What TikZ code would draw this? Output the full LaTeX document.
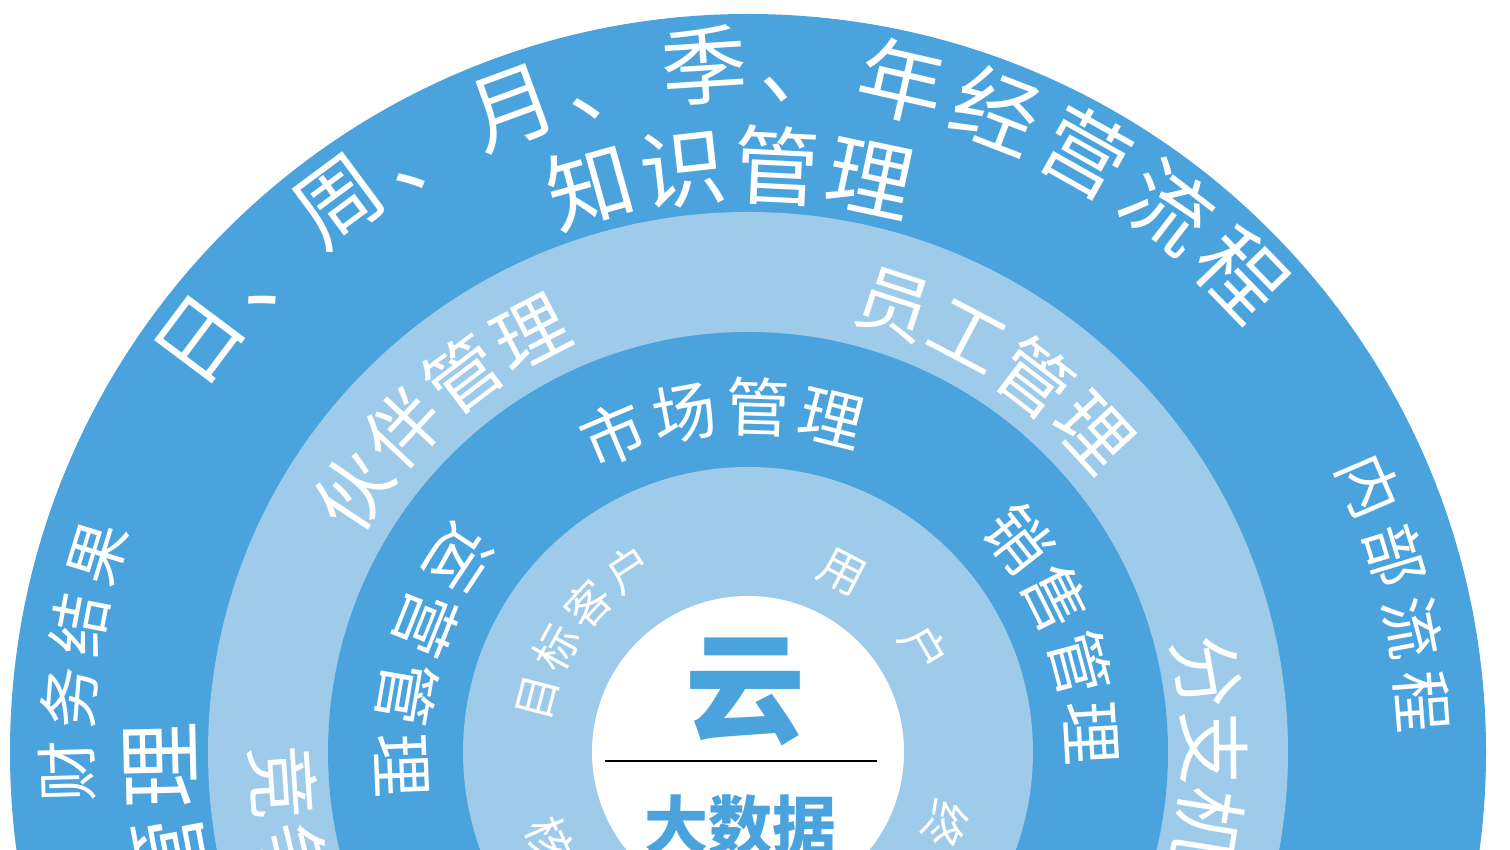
\documentclass[tikz,border=0pt]{standalone}
\usepackage{fontspec}
\newfontfamily\cjk{Noto Sans CJK SC}
\definecolor{midblue}{RGB}{74,163,221}
\definecolor{lightblue}{RGB}{158,203,234}
\newcommand\cbox[1]{\rule[-0.12em]{0pt}{1em}#1}
\tikzset{
  arcch/.style={inner sep=0pt, outer sep=0pt, text=white, font=\cjk\fontsize{#1pt}{#1pt}\selectfont},
  ring/.style={fill=#1, draw=none},
}
% outward-facing characters (tops away from centre)
\newcommand\arcout[6]{%
  \foreach \c [count=\i from 0] in {#6} {
    \pgfmathsetmacro\a{#2+#3*\i}
    \node[arcch=#5, rotate=\a-90] (#1-\i) at (\a:#4) {\cbox{\c}};
  }}
% inward-facing characters (tops towards centre)
\newcommand\arcin[6]{%
  \foreach \c [count=\i from 0] in {#6} {
    \pgfmathsetmacro\a{#2+#3*\i}
    \node[arcch=#5, rotate=\a+90] (#1-\i) at (\a:#4) {\cbox{\c}};
  }}
\begin{document}
\begin{tikzpicture}[x=1pt,y=1pt]
\useasboundingbox (0,0) rectangle (1510,850);
\fill[white] (0,0) rectangle (1510,850);
\clip (0,0) rectangle (1510,850);
\coordinate (O) at (748,98);
\fill[ring=midblue] (O) circle (738);
\fill[ring=lightblue] (O) circle (540);
\fill[ring=midblue] (O) circle (420);
\fill[ring=lightblue] (O) circle (285);
\fill[ring=white] (O) circle (156);
\begin{scope}[shift={(748,98)}]
  % outer ring
  \arcout{topa}{143.1}{-8.25}{688}{86}{日,、,周,、,月,、,季,、,年,经,营,流,程}
  \arcout{topb}{105.6}{-9.2}{587}{86}{知,识,管,理}
  \arcout{lefta}{181.6}{-6.2}{681}{62}{财,务,结,果}
  \arcout{leftb}{190.5}{-9.2}{588}{86}{管,理}
  \arcout{righta}{23.2}{-6.3}{676}{62}{内,部,流,程}
  % light ring
  \arcout{huoban}{146.5}{-9.7}{473}{74}{伙,伴,管,理}
  \arcout{yuangong}{71.9}{-9.7}{472}{74}{员,工,管,理}
  \arcout{fenzhi}{9.9}{-9.5}{466}{74}{分,支,机,构}
  \arcin{jingzheng}{183.8}{9.5}{466}{74}{竞,争}
  % middle ring
  \arcout{shichang}{112.9}{-12.3}{345}{64}{市,场,管,理}
  \arcout{xiaoshou}{38.3}{-11.7}{344}{64}{销,售,管,理}
  \arcin{yunying}{146.3}{12}{346}{64}{运,营,管,理}
  % inner light ring
  \arcout{mubiao}{165.4}{-14.1}{218}{45}{目,标,客,户}
  \arcout{yonghu}{62.4}{-31.9}{205}{46}{用,户}
  \arcout{zhong}{-20}{-13}{210}{46}{终}
  \arcin{he}{204}{13}{217}{46}{核}
\end{scope}
% centre
\node[text=midblue, inner sep=0pt, font=\cjk\bfseries\fontsize{120pt}{120pt}\selectfont] (yun) at (745,158) {云};
\coordinate (la) at (605,89);
\coordinate (lb) at (877,89);
\draw[line width=1.1pt, black] (la) -- (lb);
\node[text=midblue, inner sep=0pt, font=\cjk\bfseries\fontsize{64pt}{64pt}\selectfont] (dsj) at (740,25) {大数据};
\end{tikzpicture}
\end{document}
